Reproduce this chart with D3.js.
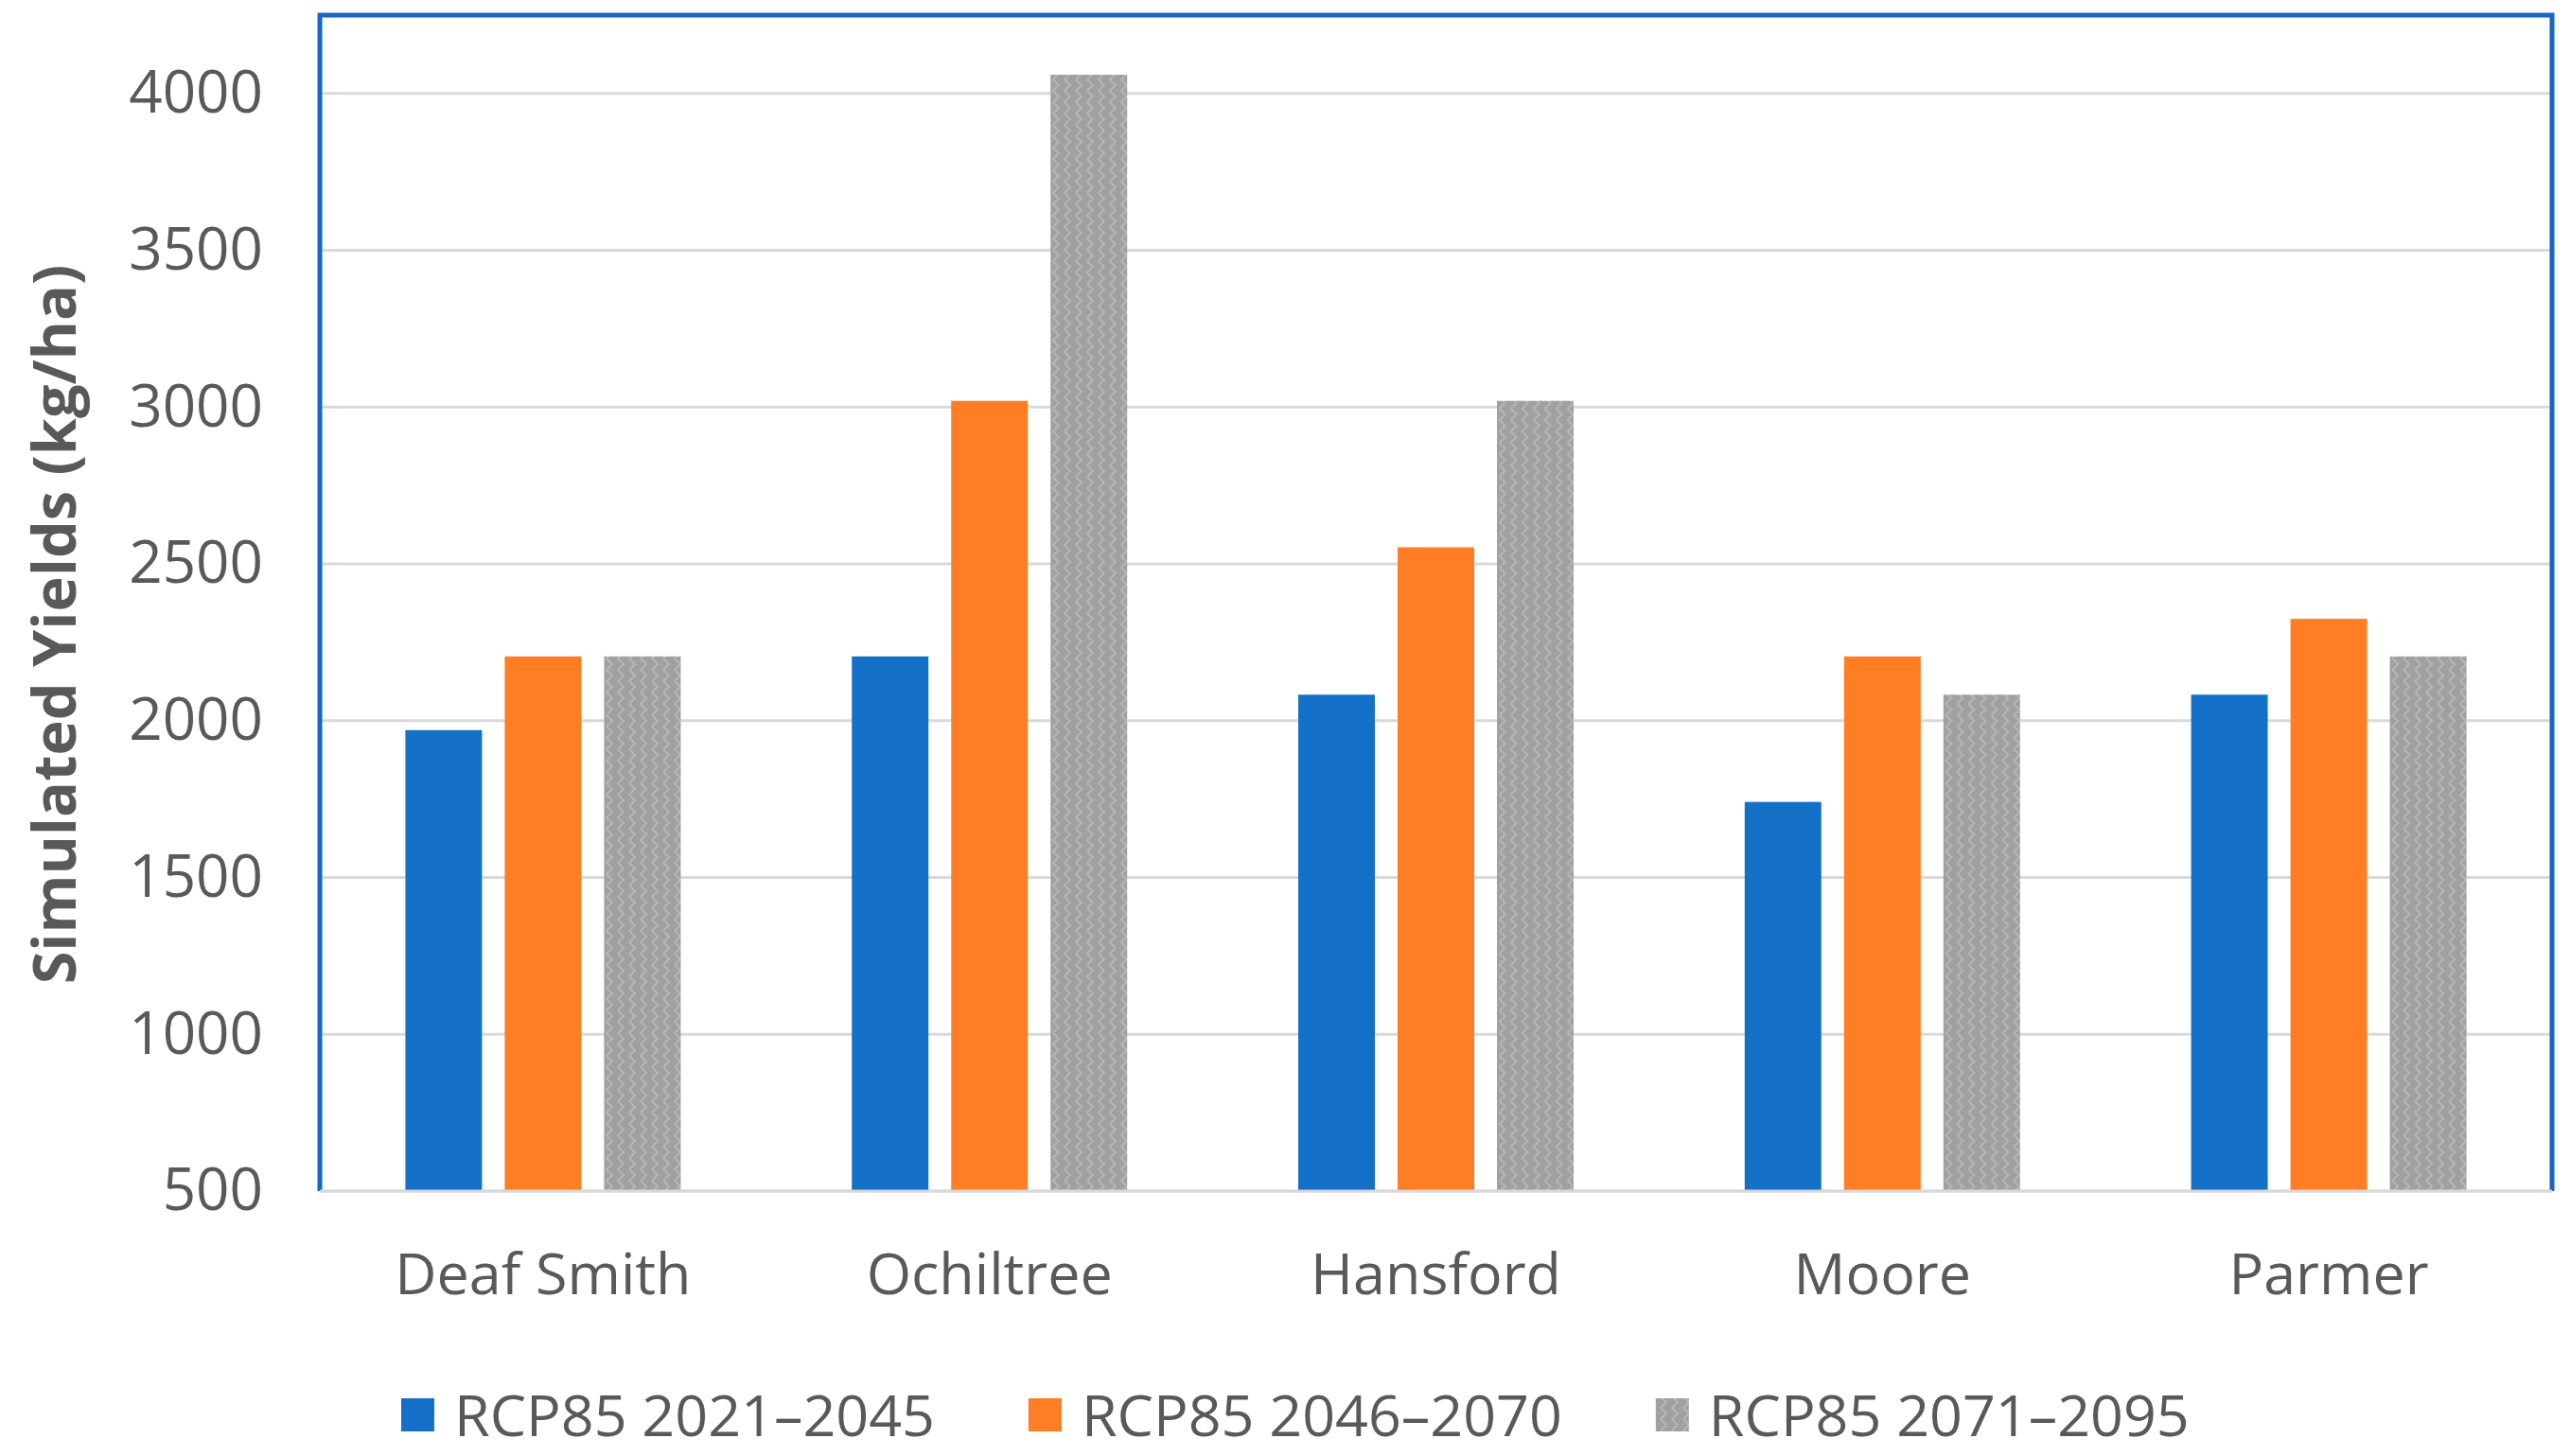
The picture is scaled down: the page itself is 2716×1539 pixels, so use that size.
<!DOCTYPE html>
<html>
<head>
<meta charset="utf-8">
<script src="https://cdn.jsdelivr.net/npm/d3@7"></script>
<style>
  body { margin: 0; background: #fff; }
  text { font-family: "Open Sans", "Noto Sans", sans-serif; fill: #595959; }
</style>
</head>
<body>
<div id="svg-container"></div>
<script>
// counties on the x axis
var counties = ["Deaf Smith", "Ochiltree", "Hansford", "Moore", "Parmer"];
var seriesNames = ["RCP85 2021\u20132045", "RCP85 2046\u20132070", "RCP85 2071\u20132095"];
var rcp2021 = [1970, 2205, 2083, 1741, 2083];
var rcp2046 = [2205, 3020, 2553, 2205, 2325];
var rcp2071 = [2205, 4060, 3020, 2083, 2205];
var yTicks = [500, 1000, 1500, 2000, 2500, 3000, 3500, 4000];

var allSeries = [rcp2021, rcp2046, rcp2071];
var fills = ["#1570c8", "#ff7d23", "url(#zigzag)"];

var W = 2716, H = 1539;
var pLeft = 338, pRight = 2697, pTop = 16, pBottom = 1259;

var svg = d3.select("#svg-container").append("svg").attr("width", W).attr("height", H);

// grey zigzag texture used by the third series
var pat = svg.append("defs").append("pattern")
    .attr("id", "zigzag").attr("patternUnits", "userSpaceOnUse")
    .attr("width", 12).attr("height", 12);
pat.append("rect").attr("width", 12).attr("height", 12).attr("fill", "#a0a0a0");
pat.append("path").attr("d", "M3,0 L9,6 L3,12").attr("fill", "none")
    .attr("stroke", "#b6b6b6").attr("stroke-width", 2);

var x0 = d3.scaleBand().domain(counties).range([pLeft, pRight]).padding(0);
var x1 = d3.scaleBand().domain(d3.range(3)).range([0, x0.bandwidth()])
    .paddingInner(0.229).paddingOuter(0.861);
var y = d3.scaleLinear().domain([500, 4250]).range([pBottom, pTop]);

// gridlines
svg.append("g").selectAll("line").data(yTicks).enter().append("line")
    .attr("x1", pLeft).attr("x2", pRight)
    .attr("y1", d => y(d)).attr("y2", d => y(d))
    .attr("stroke", "#d9d9d9").attr("stroke-width", 3);

// bars
var groups = svg.append("g").selectAll("g").data(counties).enter().append("g")
    .attr("transform", d => "translate(" + x0(d) + ",0)");
groups.selectAll("rect").data((d, i) => allSeries.map((s, k) => ({k: k, v: s[i]})))
    .enter().append("rect")
    .attr("x", d => x1(d.k)).attr("width", x1.bandwidth())
    .attr("y", d => y(d.v)).attr("height", d => y(500) - y(d.v))
    .attr("fill", d => fills[d.k]);

// blue frame (open at the bottom) and grey baseline
svg.append("path")
    .attr("d", "M" + pLeft + "," + pBottom + " V" + pTop + " H" + pRight + " V" + pBottom)
    .attr("fill", "none").attr("stroke", "#1766c2").attr("stroke-width", 5);
svg.append("line").attr("x1", pLeft).attr("x2", pRight).attr("y1", pBottom).attr("y2", pBottom)
    .attr("stroke", "#d9d9d9").attr("stroke-width", 3);

// y axis labels
var yAxis = d3.axisLeft(y).tickValues(yTicks).tickFormat(d3.format("d")).tickSize(0).tickPadding(0);
var yg = svg.append("g").attr("transform", "translate(278,0)").call(yAxis);
yg.select(".domain").remove();
yg.selectAll("text").attr("font-size", 62).attr("font-family", null).attr("fill", "#595959");

// x axis labels
var xAxis = d3.axisBottom(x0).tickSize(0).tickPadding(0);
var xg = svg.append("g").attr("transform", "translate(0,1325)").call(xAxis);
xg.select(".domain").remove();
xg.selectAll("text").attr("font-size", 61).attr("font-family", null).attr("fill", "#595959");

// axis title
svg.append("text")
    .attr("transform", "translate(80," + 660 + ") rotate(-90)")
    .attr("text-anchor", "middle").attr("font-size", 63).attr("font-weight", "bold")
    .text("Simulated Yields (kg/ha)");

// legend
var lx = 424;
seriesNames.forEach(function (name, k) {
    svg.append("rect").attr("x", lx).attr("y", 1478).attr("width", 35).attr("height", 35)
        .attr("fill", fills[k]);
    var t = svg.append("text").attr("x", lx + 56).attr("y", 1518)
        .attr("font-size", 61).text(name);
    lx = lx + 56 + t.node().getComputedTextLength() + 99;
});
</script>
</body>
</html>
